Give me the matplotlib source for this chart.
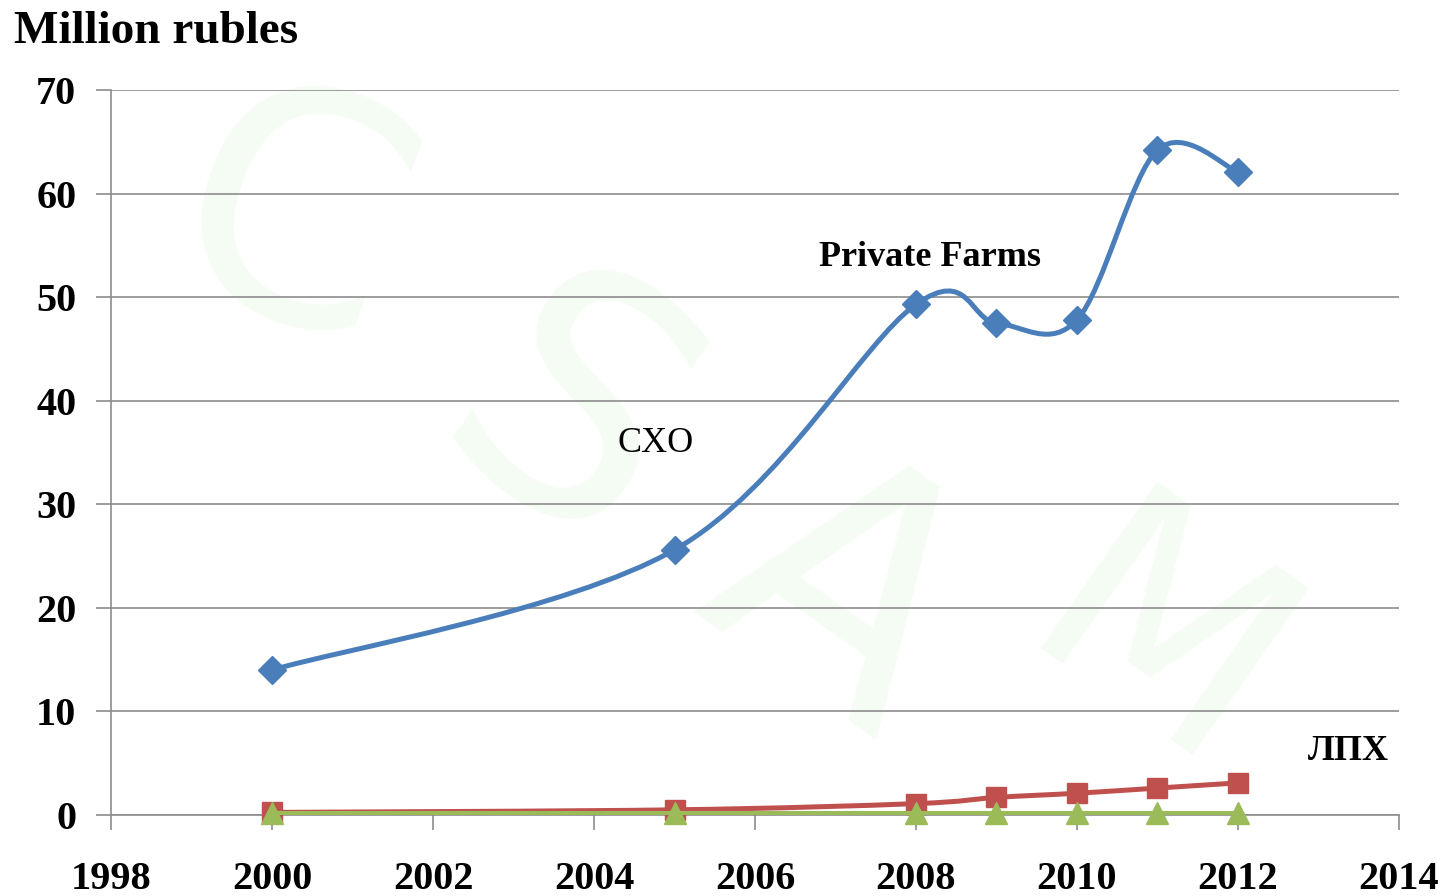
import numpy as np
import matplotlib.pyplot as plt
from matplotlib.path import Path
from matplotlib.patches import PathPatch

plt.rcParams['font.family'] = ['Liberation Serif', 'DejaVu Serif']

# values (million rubles)
years = [2000, 2005, 2008, 2009, 2010, 2011, 2012]
private_farms = [14.0, 25.6, 49.3, 47.5, 47.8, 64.2, 62.1]
lphh = [0.25, 0.5, 1.1, 1.7, 2.1, 2.6, 3.1]
kfh = [0.15, 0.15, 0.15, 0.15, 0.15, 0.15, 0.15]

x_ticks = list(range(1998, 2015, 2))
y_ticks = list(range(0, 71, 10))


def smooth_path(xs, ys):
    # Excel-style smoothed line: cubic Bezier segments with Catmull-Rom control points
    pts = np.column_stack([xs, ys]).astype(float)
    n = len(pts)
    verts = [pts[0]]
    codes = [Path.MOVETO]
    for i in range(n - 1):
        p0 = pts[i - 1] if i > 0 else pts[i]
        p1 = pts[i]
        p2 = pts[i + 1]
        p3 = pts[i + 2] if i + 2 < n else pts[i + 1]
        c1 = p1 + (p2 - p0) / 6.0
        c2 = p2 - (p3 - p1) / 6.0
        verts += [c1, c2, p2]
        codes += [Path.CURVE4] * 3
    return Path(verts, codes)


fig = plt.figure(figsize=(14.44, 8.96), dpi=100)

# faint watermark letters, drawn under everything
wm = '#f4fcf3'
for lx, ly, ch, rot, fs in [(0.20, 0.74, 'C', -20, 230), (0.39, 0.52, 'S', -35, 240),
                            (0.58, 0.33, 'A', -35, 240), (0.80, 0.27, 'M', -35, 200)]:
    fig.text(lx, ly, ch, fontsize=fs, color=wm, rotation=rot, ha='center', va='center',
             fontfamily='DejaVu Sans', zorder=-10)

ax = fig.add_axes([0.0769, 0.0904, 0.8919, 0.8092])
ax.set_facecolor('none')
ax.set_zorder(1)

series = [
    (private_farms, '#4a7ebb', 'D', 14),
    (lphh, '#c0504d', 's', 15),
    (kfh, '#9bbb59', '^', 16),
]
z = 3
for ys, color, marker, ms in series:
    ax.add_patch(PathPatch(smooth_path(years, ys), facecolor='none', edgecolor=color,
                           lw=3.6, zorder=z, capstyle='round'))
    ax.plot(years, ys, linestyle='none', marker=marker, markersize=ms, color=color,
            markeredgecolor=color, zorder=z + 0.5, clip_on=False)
    z += 1

ax.set_xlim(1998, 2014)
ax.set_ylim(0, 70)
ax.set_xticks(x_ticks)
ax.set_yticks(y_ticks)
ax.grid(axis='y', color='#8c8c8c', lw=1.2)
ax.set_axisbelow(True)

for s in ['top', 'right']:
    ax.spines[s].set_visible(False)
for s in ['left', 'bottom']:
    ax.spines[s].set_color('#8c8c8c')
    ax.spines[s].set_linewidth(1.2)

ax.tick_params(axis='x', direction='out', length=11, width=1.2, color='#8c8c8c', pad=22,
               labelsize=29)
ax.tick_params(axis='y', direction='out', length=11, width=1.2, color='#8c8c8c', pad=14,
               labelsize=29)
for lab in ax.get_xticklabels() + ax.get_yticklabels():
    lab.set_fontweight('bold')

ax.text(2008.17, 53.8, 'Private Farms', fontsize=26, fontweight='bold', ha='center', va='center')
ax.text(2004.76, 35.9, 'CXO', fontsize=26, ha='center', va='center')
ax.text(2013.37, 6.1, 'ЛПХ', fontsize=26, fontweight='bold', ha='center', va='center')

fig.text(0.0097, 0.964, 'Million rubles', fontsize=34, fontweight='bold', ha='left', va='center')

fig.savefig('out.png', dpi=100)
